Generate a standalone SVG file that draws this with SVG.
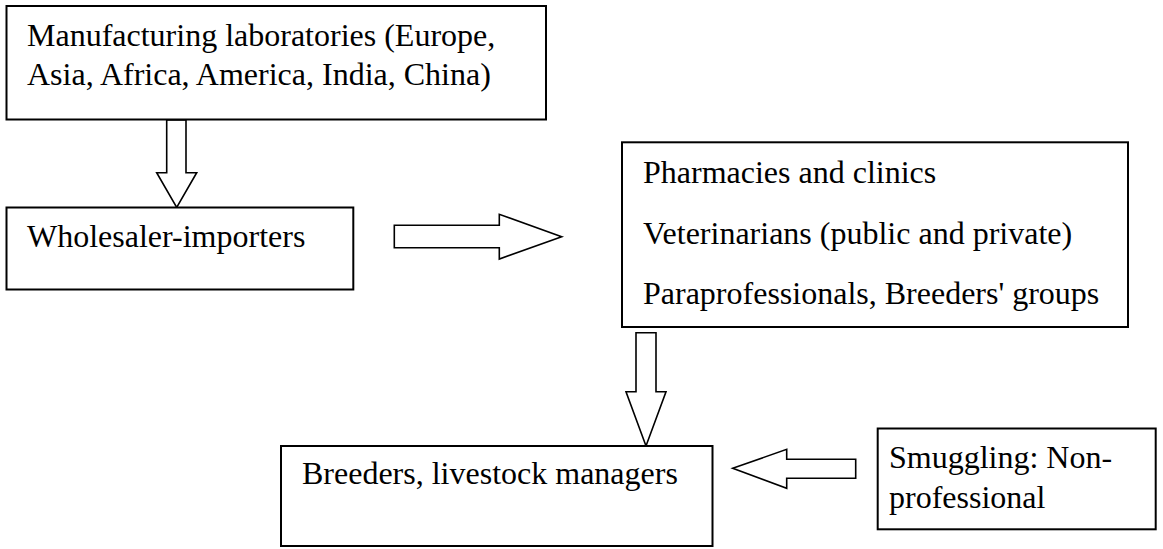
<svg xmlns="http://www.w3.org/2000/svg" width="1163" height="549" viewBox="0 0 1163 549">
<style>
.box{fill:#fff;stroke:#000;stroke-width:2}
.arr{fill:#fff;stroke:#000;stroke-width:1.6;stroke-linejoin:miter}
text{font-family:"Liberation Serif","Times New Roman",serif;font-size:32px;fill:#000}
</style>
<rect width="1163" height="549" fill="#fff"/>
<g id="connectors">
<polygon class="arr" points="166.7,120 186,120 186,172.7 196.7,172.7 176.7,207.3 156.7,172.7 166.7,172.7"/>
<polygon class="arr" points="394.3,225.3 499.3,225.3 499.3,214.3 561.7,236.7 499.3,259 499.3,247.7 394.3,247.7"/>
<polygon class="arr" points="636,332.7 656,332.7 656,391.7 666,391.7 646,446 626,391.7 636,391.7"/>
<polygon class="arr" points="855.7,459.3 786.7,459.3 786.7,449.3 732.7,468.3 786.7,488.3 786.7,478.3 855.7,478.3"/>
</g>
<g id="manufacturers">
<rect class="box" x="6.5" y="6" width="539.5" height="113.5"/>
<text x="27" y="45.7">Manufacturing laboratories (Europe,</text>
<text x="27" y="85">Asia, Africa, America, India, China)</text>
</g>
<g id="wholesalers">
<rect class="box" x="6.5" y="207.5" width="346.8" height="82"/>
<text x="27" y="247">Wholesaler-importers</text>
</g>
<g id="retailers">
<rect class="box" x="622" y="142.3" width="506" height="184.7"/>
<text x="643" y="182.5">Pharmacies and clinics</text>
<text x="643" y="244">Veterinarians (public and private)</text>
<text x="643" y="304">Paraprofessionals, Breeders' groups</text>
</g>
<g id="breeders">
<rect class="box" x="281" y="446" width="431.5" height="100"/>
<text x="302" y="484">Breeders, livestock managers</text>
</g>
<g id="smuggling">
<rect class="box" x="877.7" y="428.5" width="278" height="100.8"/>
<text x="889" y="468">Smuggling: Non-</text>
<text x="889" y="508">professional</text>
</g>
</svg>
